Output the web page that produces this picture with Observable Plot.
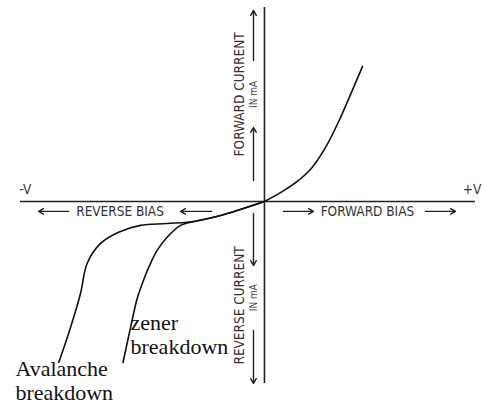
<!DOCTYPE html>
<html>
<head>
<meta charset="utf-8">
<script src="https://cdn.jsdelivr.net/npm/d3@7"></script>
<script src="https://cdn.jsdelivr.net/npm/@observablehq/plot@0.6"></script>
<style>
  html, body { margin: 0; padding: 0; background: #fff; }
  #chart svg { display: block; }
</style>
</head>
<body>
<div id="chart"></div>
<script>
// Forward-bias characteristic (voltage units, current units)
const forwardV = [0, 0.74, 1.42, 1.97, 2.51, 3.06, 3.54, 4.02];
const forwardI = [0, 0.55, 1.17, 1.88, 2.95, 4.40, 5.85, 7.34];

// Reverse-bias: common leakage section then two breakdown branches
const avalancheV = [0, -1.80, -2.83, -4.00, -5.08, -5.98, -6.72, -7.27, -7.54, -7.95, -8.36, -8.43];
const avalancheI = [0, -0.76, -1.07, -1.20, -1.30, -1.67, -2.28, -3.37, -5.00, -6.85, -8.48, -8.73];
const zenerV = [0, -1.80, -2.83, -3.44, -3.99, -4.40, -4.74, -5.01, -5.22, -5.49, -5.78, -5.80];
const zenerI = [0, -0.76, -1.07, -1.30, -1.94, -2.66, -3.57, -4.47, -5.29, -6.85, -8.64, -8.75];

// Axis extents
const xExtent = [-10, 8.65];
const yExtent = [-9.89, 10.54];

// Direction arrows [x1, y1, x2, y2]
const arrowsX1 = [-8.03, -2.17, 0.78, 6.60, -0.45, -0.45, -0.45, -0.45];
const arrowsY1 = [-0.54, -0.54, -0.54, -0.54, 7.66, 1.14, -0.65, -7.01];
const arrowsX2 = [-9.26, -3.44, 2.01, 7.83, -0.45, -0.45, -0.45, -0.45];
const arrowsY2 = [-0.54, -0.54, -0.54, -0.54, 10.38, 4.02, -3.48, -9.89];

// Labels
const biasLabels = ["REVERSE BIAS", "FORWARD BIAS"];
const biasX = [-5.92, 4.22];
const currentLabels = ["FORWARD CURRENT", "REVERSE CURRENT"];
const currentY = [5.82, -5.65];
const unitY = [5.82, -5.22];
const breakdownLabels = ["zener\nbreakdown", "Avalanche\nbreakdown"];
const breakdownX = [-5.49, -10.21];
const breakdownY = [-6.08, -8.58];

const fwd = forwardV.map((v, i) => ({v, i: forwardI[i]}));
const ava = avalancheV.map((v, i) => ({v, i: avalancheI[i]}));
const zen = zenerV.map((v, i) => ({v, i: zenerI[i]}));
const arrows = arrowsX1.map((x1, k) => ({x1, y1: arrowsY1[k], x2: arrowsX2[k], y2: arrowsY2[k]}));

const sans = "'Liberation Sans Narrow', 'DejaVu Sans Condensed', 'Open Sans', sans-serif";

const chart = Plot.plot({
  width: 482,
  height: 408,
  marginLeft: 20,
  marginRight: 7,
  marginTop: 7,
  marginBottom: 25,
  x: {domain: xExtent, axis: null},
  y: {domain: yExtent, axis: null},
  style: {background: "#fff", overflow: "visible"},
  marks: [
    Plot.ruleY([0], {x1: xExtent[0], x2: xExtent[1], stroke: "#222", strokeWidth: 1.6}),
    Plot.ruleX([0], {y1: yExtent[0], y2: yExtent[1], stroke: "#222", strokeWidth: 1.6}),
    Plot.line(fwd, {x: "v", y: "i", curve: "monotone-x", stroke: "#111", strokeWidth: 1.6}),
    Plot.line(ava, {x: "v", y: "i", curve: "catmull-rom", stroke: "#111", strokeWidth: 1.6}),
    Plot.line(zen, {x: "v", y: "i", curve: "catmull-rom", stroke: "#111", strokeWidth: 1.6}),
    Plot.arrow(arrows, {x1: "x1", y1: "y1", x2: "x2", y2: "y2", stroke: "#222", strokeWidth: 1.4, headLength: 6}),
    Plot.text(biasLabels, {x: (d, k) => biasX[k], y: -0.54, text: d => d, fontFamily: sans, fontSize: 13.5, fill: "#333"}),
    Plot.text(currentLabels, {x: -1.0, y: (d, k) => currentY[k], text: d => d, rotate: -90, fontFamily: sans, fontSize: 13.5, fill: "#333"}),
    Plot.text(["IN mA", "IN mA"], {x: -0.43, y: (d, k) => unitY[k], text: d => d, rotate: -90, fontFamily: sans, fontSize: 10, fill: "#444"}),
    Plot.text(["-V"], {x: -10.04, y: 0.43, text: d => d, textAnchor: "start", lineAnchor: "bottom", fontFamily: sans, fontSize: 13.5, fill: "#333"}),
    Plot.text(["+V"], {x: 8.89, y: 0.43, text: d => d, textAnchor: "end", lineAnchor: "bottom", fontFamily: sans, fontSize: 13.5, fill: "#333"}),
    Plot.text(breakdownLabels, {x: (d, k) => breakdownX[k], y: (d, k) => breakdownY[k], text: d => d, textAnchor: "start", lineAnchor: "top", lineHeight: 1.07, fontFamily: "'Liberation Serif', 'DejaVu Serif', serif", fontSize: 22, fill: "#111"})
  ]
});
document.getElementById("chart").appendChild(chart);
</script>
</body>
</html>
